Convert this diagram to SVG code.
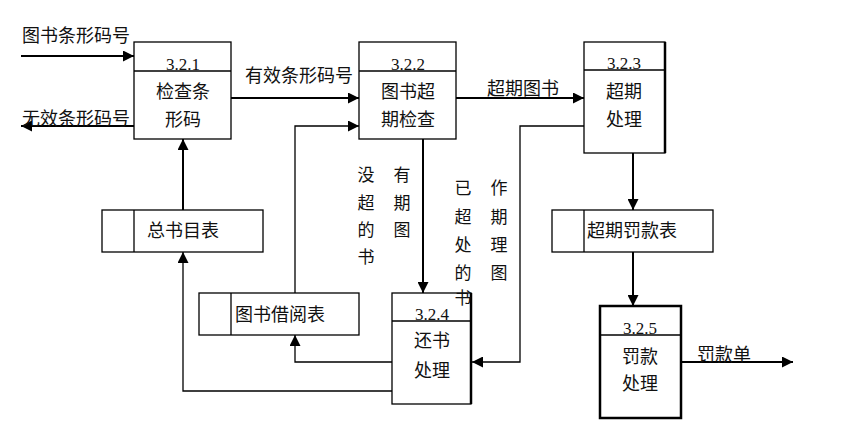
<svg xmlns="http://www.w3.org/2000/svg" width="851" height="448" viewBox="0 0 851 448">
<defs>
<marker id="ah" viewBox="0 0 10 10" refX="10" refY="5" markerWidth="11" markerHeight="11" markerUnits="userSpaceOnUse" orient="auto">
<path d="M0,0 L10,5 L0,10 z" fill="#000"/>
</marker>
<style>
.box{fill:#fff;stroke:#000;stroke-width:1.3}
.thick{fill:#fff;stroke:#000;stroke-width:2.5}
.ln{fill:none;stroke:#000;stroke-width:1.3}
.cn{fill:none;stroke:#000;stroke-width:2}
.t{font-family:"Liberation Serif","Noto Sans CJK SC",serif;font-size:18px;fill:#111}
.n{font-family:"Liberation Serif","Noto Sans CJK SC",serif;font-size:17px;fill:#111;text-anchor:middle}
.c{text-anchor:middle}
.v{font-family:"Liberation Serif","Noto Sans CJK SC",serif;font-size:17px;fill:#111;text-anchor:middle}
</style>
</defs>
<rect width="851" height="448" fill="#fff"/>

<g id="connectors">
<line class="cn" x1="21" y1="56" x2="134" y2="56" marker-end="url(#ah)"/>
<line class="cn" x1="134" y1="126" x2="21" y2="126" marker-end="url(#ah)"/>
<line class="cn" x1="231" y1="98" x2="359" y2="98" marker-end="url(#ah)"/>
<polyline class="ln" points="295,293 295,126 359,126" marker-end="url(#ah)"/>
<line class="cn" x1="456" y1="98" x2="584" y2="98" marker-end="url(#ah)"/>
<polyline class="ln" points="584,126 520,126 520,362 472,362" marker-end="url(#ah)"/>
<line class="cn" x1="423" y1="139" x2="423" y2="293" marker-end="url(#ah)"/>
<polyline class="ln" points="392,362 295,362 295,335" marker-end="url(#ah)"/>
<polyline class="ln" points="392,391 183,391 183,252" marker-end="url(#ah)"/>
<line class="cn" x1="183" y1="210" x2="183" y2="139" marker-end="url(#ah)"/>
<line class="cn" x1="633" y1="153" x2="633" y2="210" marker-end="url(#ah)"/>
<line class="cn" x1="633" y1="252" x2="633" y2="306" marker-end="url(#ah)"/>
<line class="cn" x1="681" y1="362" x2="793" y2="362" marker-end="url(#ah)"/>
</g>

<g id="p321">
<rect class="box" x="134" y="42" width="97" height="97"/>
<line class="ln" x1="134" y1="71" x2="231" y2="71"/>
<text class="n" x="183" y="70">3.2.1</text>
<text class="t c" x="183" y="98">检查条</text>
<text class="t c" x="183" y="126">形码</text>
</g>

<g id="p322">
<rect class="box" x="359" y="42" width="97" height="97"/>
<line class="ln" x1="359" y1="71" x2="456" y2="71"/>
<text class="n" x="408" y="70">3.2.2</text>
<text class="t c" x="408" y="98">图书超</text>
<text class="t c" x="408" y="126">期检查</text>
</g>

<g id="p323">
<rect class="box" x="584" y="42" width="81" height="111"/>
<line x1="665" y1="42" x2="665" y2="153" stroke="#000" stroke-width="2.5"/>
<line class="ln" x1="584" y1="70" x2="665" y2="70"/>
<text class="n" x="624" y="69">3.2.3</text>
<text class="t c" x="624" y="98">超期</text>
<text class="t c" x="624" y="126">处理</text>
</g>

<g id="p324">
<rect class="box" x="392" y="293" width="79" height="111"/>
<line x1="471" y1="293" x2="471" y2="404" stroke="#000" stroke-width="2.5"/>
<line class="ln" x1="392" y1="321" x2="471" y2="321"/>
<text class="n" x="432" y="320">3.2.4</text>
<text class="t c" x="432" y="347">还书</text>
<text class="t c" x="432" y="377">处理</text>
</g>

<g id="p325">
<rect class="thick" x="600" y="306" width="81" height="112"/>
<line class="ln" x1="600" y1="335" x2="681" y2="335"/>
<text class="n" x="640" y="334">3.2.5</text>
<text class="t c" x="640" y="363">罚款</text>
<text class="t c" x="640" y="390">处理</text>
</g>

<g id="d_zongshu">
<rect class="box" x="102" y="210" width="161" height="42"/>
<line class="ln" x1="134" y1="210" x2="134" y2="252"/>
<text class="t" x="147" y="237">总书目表</text>
</g>

<g id="d_jieyue">
<rect class="box" x="199" y="293" width="160" height="42"/>
<line class="ln" x1="231" y1="293" x2="231" y2="335"/>
<text class="t" x="235" y="321">图书借阅表</text>
</g>

<g id="d_fakuan">
<rect class="box" x="552" y="210" width="161" height="42"/>
<line class="ln" x1="584" y1="210" x2="584" y2="252"/>
<text class="t" x="587" y="237">超期罚款表</text>
</g>

<g id="labels">
<text class="t" x="22" y="42">图书条形码号</text>
<text class="t" x="22" y="125">无效条形码号</text>
<text class="t" x="245" y="82">有效条形码号</text>
<text class="t" x="487" y="95">超期图书</text>
<text class="t" x="697" y="361">罚款单</text>
<text class="v" x="366" y="181">没</text>
<text class="v" x="366" y="209">超</text>
<text class="v" x="366" y="236">的</text>
<text class="v" x="366" y="263">书</text>
<text class="v" x="402" y="181">有</text>
<text class="v" x="402" y="209">期</text>
<text class="v" x="402" y="236">图</text>
<text class="v" x="463" y="194">已</text>
<text class="v" x="463" y="223">超</text>
<text class="v" x="463" y="251">处</text>
<text class="v" x="463" y="279">的</text>
<text class="v" x="463" y="304">书</text>
<text class="v" x="499" y="194">作</text>
<text class="v" x="499" y="223">期</text>
<text class="v" x="499" y="251">理</text>
<text class="v" x="499" y="279">图</text>
</g>
</svg>
